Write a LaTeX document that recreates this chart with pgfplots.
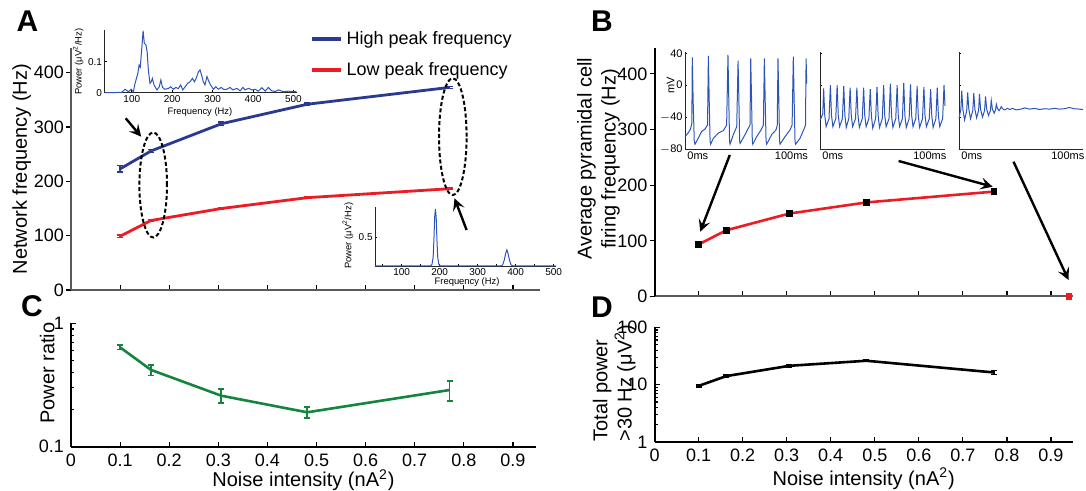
\documentclass[border=0pt]{standalone}
\usepackage{fontspec}
\setmainfont{Liberation Sans}
\usepackage{pgfplots}
\pgfplotsset{compat=1.18}
\usetikzlibrary{arrows.meta}

\definecolor{hiblue}{RGB}{43,57,144}
\definecolor{lored}{RGB}{237,28,36}
\definecolor{grn}{RGB}{20,133,62}
\definecolor{trace}{RGB}{45,85,185}
\definecolor{axgray}{RGB}{90,90,90}

\pgfplotsset{
  panel/.style={scale only axis, anchor=south west, axis lines*=left, clip=false,
    /pgf/number format/assume math mode=true,
    tick align=inside, major tick length=2.5pt, minor tick length=1.5pt,
    tick style={black, line width=0.6pt},
    axis line style={line width=1pt},
    tick label style={font=\fontsize{9}{10}\selectfont},
    label style={font=\fontsize{10}{12}\selectfont},
    xmin=0, xtick={0,0.1,0.2,0.3,0.4,0.5,0.6,0.7,0.8,0.9}},
  inset/.style={scale only axis, anchor=south west, axis lines*=left, clip=false,
    /pgf/number format/assume math mode=true,
    tick align=inside, major tick length=1.2pt, minor tick length=0.8pt,
    tick style={black, line width=0.3pt},
    axis line style={line width=0.45pt, black!85},
    tick label style={font=\fontsize{5}{6}\selectfont, inner sep=1pt},
    label style={font=\fontsize{4.7}{5.5}\selectfont}},
  ebar/.style={error bars/.cd, y dir=both, y explicit,
    error bar style={line width=0.8pt},
    error mark options={rotate=90, line width=0.8pt, mark size=1.5pt}},
}

\begin{document}
\begin{tikzpicture}
\useasboundingbox (0,0) rectangle (543pt,-245.5pt);

% ---------- A ----------
\begin{axis}[panel, at={(35.5pt,-145pt)}, width=234.5pt, height=120.85pt,
  xmax=0.955, ymin=0, ymax=445, ytick={0,100,200,300,400}, xticklabels={},
  axis line style={axgray, line width=1.2pt},
  ytick style={xshift=-2.5pt},
  ylabel={Network frequency (Hz)},
  ylabel style={at={(axis description cs:-0.105,0.5)}, anchor=center},
  legend style={draw=none, fill=none, at={(axis description cs:0.495,1.105)}, anchor=north west,
    font=\fontsize{9}{11}\selectfont, row sep=3.5pt},
  legend cell align=left,
  legend image code/.code={\draw[#1, line width=2pt] (0pt,0pt) -- (14.5pt,0pt);}]
\addplot[hiblue, line width=1.4pt, ebar] coordinates {
  (0.1,223) +- (0,6) (0.163,256) +- (0,3) (0.306,306) +- (0,3)
  (0.481,342) +- (0,2) (0.771,373) +- (0,2)};
\addlegendentry{High peak frequency}
\addplot[lored, line width=1.4pt, ebar] coordinates {
  (0.1,99) +- (0,2) (0.163,128) +- (0,2) (0.306,150) +- (0,1.5)
  (0.481,170) +- (0,1.5) (0.771,186.5) +- (0,1.5)};
\addlegendentry{Low peak frequency}
\end{axis}

% inset A upper
\begin{axis}[inset, at={(52.15pt,-46.35pt)}, width=96.2pt, height=31.35pt,
  xmin=32, xmax=508, ymin=0, ymax=0.202,
  xtick={100,200,300,400,500}, ytick={0,0.1}, yticklabels={0,0.1},
  xlabel={Frequency (Hz)}, ylabel={Power (μV\textsuperscript{2}/Hz)},
  xlabel style={at={(axis description cs:0.497,-0.303)}, anchor=center},
  ylabel style={at={(axis description cs:-0.135,0.494)}, anchor=center}]
\addplot[trace, line width=0.5pt] coordinates {
  (34,0) (75,0.001) (83.5,0.011) (91.8,0.003) (98.4,0.011) (104,0.003) (108,0.030)
  (115,0.062) (118,0.089) (121,0.082) (125,0.148) (128,0.200) (131,0.159) (135,0.154)
  (138,0.132) (141,0.073) (145,0.030) (148,0.035) (151,0.046) (155,0.025) (162,0.009)
  (168,0.019) (172,0.041) (176,0.017) (182,0.011) (191,0.014) (196,0.019) (203,0.011)
  (209,0.017) (215,0.013) (221,0.025) (226,0.009) (232,0.019) (238,0.030) (244,0.035)
  (250,0.046) (255,0.035) (261,0.052) (265,0.068) (269,0.073) (273,0.055) (277,0.035)
  (281,0.025) (286,0.052) (291,0.035) (295,0.025) (302,0.011) (308,0.019) (314,0.011)
  (321,0.017) (327,0.011) (335,0.011) (343,0.017) (350,0.009) (360,0.014) (368,0.006)
  (375,0.017) (380,0.009) (389,0.014) (397,0.009) (405,0.011) (413,0.005) (422,0.016)
  (430,0.005) (438,0.017) (446,0.006) (455,0.004) (463,0.009) (475,0.003) (488,0.005)
  (500,0.003) (507,0.004)};
\end{axis}

% inset A lower
\begin{axis}[inset, at={(187.5pt,-133pt)}, width=90.25pt, height=29.65pt,
  xmin=30, xmax=505, ymin=0, ymax=1.03,
  xtick={100,200,300,400,500}, minor xtick={50,150,250,350,450}, ytick={0.5},
  xlabel={Frequency (Hz)}, ylabel={Power (μV\textsuperscript{2}/Hz)},
  xlabel style={at={(axis description cs:0.51,-0.265)}, anchor=center},
  ylabel style={at={(axis description cs:-0.15,0.51)}, anchor=center}]
\addplot[trace, line width=0.5pt] coordinates {
  (30,0) (150,0) (176,0) (180,0.03) (183,0.15) (185,0.45) (187,0.85) (189,0.99)
  (191,0.85) (193,0.45) (195,0.15) (198,0.03) (202,0) (360,0) (366,0.02) (370,0.1)
  (374,0.22) (377,0.28) (380,0.22) (384,0.1) (388,0.02) (394,0) (505,0)};
\end{axis}

% ---------- C ----------
\begin{axis}[panel, at={(35.5pt,-223.35pt)}, width=232.5pt, height=61.7pt,
  xmax=0.947, ymode=log, ymin=0.1, ymax=1, ytick={0.1,1}, yticklabels={0.1,1},
  xticklabels={0,0.1,0.2,0.3,0.4,0.5,0.6,0.7,0.8,0.9},
  xlabel={Noise intensity (nA\textsuperscript{2})}, ylabel={Power ratio},
  xlabel style={at={(axis description cs:0.5,-0.27)}, anchor=center},
  ylabel style={at={(axis description cs:-0.051,0.597)}, anchor=center}]
\addplot[grn, line width=1.3pt, ebar] coordinates {
  (0.1,0.638) +- (0,0.026) (0.163,0.419) +- (0,0.04) (0.306,0.259) +- (0,0.033)
  (0.481,0.19) +- (0,0.02) (0.771,0.288) +- (0,0.053)};
\end{axis}

% ---------- B ----------
\begin{axis}[panel, at={(327.25pt,-148.25pt)}, width=209.25pt, height=124.4pt,
  xmax=0.95, ymin=0, ymax=447, ytick={0,100,200,300,400}, xticklabels={},
  x axis line style={axgray}, ytick style={xshift=-2.5pt},
  ylabel={Average pyramidal cell\\firing frequency (Hz)},
  ylabel style={at={(axis description cs:-0.134,0.553)}, anchor=center, align=center}]
\addplot[lored, line width=1.3pt, mark=square*, mark size=1pt,
  mark options={black, fill=black}, ebar] coordinates {
  (0.1,93.5) +- (0,3) (0.163,119) +- (0,2) (0.306,149) +- (0,3)
  (0.481,169) +- (0,3) (0.771,188.5) +- (0,2)};
\addplot[only marks, lored, mark=square*, mark size=1.4pt] coordinates {(0.941,0)};
\end{axis}

% inset B1
\begin{axis}[inset, at={(342.5pt,-74.5pt)}, width=60.85pt, height=48.65pt,
  xmin=0, xmax=100, ymin=-80, ymax=42, xtick=\empty,
  ytick={-80,-40,0,40}, yticklabels={$-$80,$-$40,0,40},
  tick label style={font=\fontsize{5.5}{6}\selectfont},
  ylabel={mV}, ylabel style={at={(axis description cs:-0.118,0.656)}, anchor=center,
    font=\fontsize{5.5}{6}\selectfont}]
\addplot[trace, line width=0.5pt] coordinates {
  (0,-64.5) (2.5,-60) (4.5,-55) (5.6,-48)
  (6.0,35) (6.7,-20) (7.6,-70) (8.2,-74) (10,-69) (13.7,-58) (16.4,-55) (18.5,-50)
  (19.2,36.7) (19.9,-20) (20.6,-70) (21.1,-74) (23.3,-66.6) (27.4,-60) (31.5,-57) (34.2,-50)
  (35.3,37.9) (36,-20) (36.6,-70) (37,-74) (39.7,-62) (42.5,-52)
  (43.6,30.8) (44.3,-20) (44.9,-70) (45.3,-73) (49.3,-62) (52,-54) (53.4,-50)
  (54,33.7) (54.7,-20) (55.3,-70) (55.7,-74) (58.9,-64.5) (62.5,-56) (64.4,-50)
  (65.2,33.7) (65.9,-20) (66.6,-70) (67.1,-74) (71.2,-62) (74.8,-56) (75.8,-50)
  (76.4,33.7) (77.1,-20) (77.7,-70) (78.1,-74) (82.2,-64.5) (86.3,-56) (88,-50)
  (89,35.8) (89.7,-20) (90.4,-70) (90.9,-74) (94.5,-66.6) (97.8,-55) (99,-50)
  (99.5,33.7) (100,2)};
\node[anchor=north west, inner sep=1pt, font=\fontsize{5.5}{6}\selectfont] at (axis cs:0,-80) {0ms};
\node[anchor=north east, inner sep=1pt, font=\fontsize{5.5}{6}\selectfont] at (axis cs:103,-80) {100ms};
\end{axis}

% inset B2
\begin{axis}[inset, at={(410pt,-74.5pt)}, width=62.5pt, height=48.65pt,
  xmin=0, xmax=100, ymin=-80, ymax=42, xtick=\empty,
  ytick={-80,-40,0,40}, yticklabels={}]
\addplot[trace, line width=0.5pt] coordinates {
  (0,-44) (2.2,-36)
  (2.9,-4) (3.8,-38) (4.9,-52) (7.2,-42)
  (8.3,0) (9.2,-38) (10.3,-52) (12.6,-42)
  (13.7,0) (14.6,-38) (15.7,-52) (17.9,-42)
  (19.0,-1) (19.9,-38) (21.0,-53) (23.0,-42)
  (24.1,-3) (25.0,-38) (26.1,-52) (28.4,-42)
  (29.5,-3) (30.4,-38) (31.5,-53) (33.8,-42)
  (34.9,-3) (35.8,-38) (36.9,-52) (39.1,-42)
  (40.2,-5) (41.1,-38) (42.2,-54) (44.5,-42)
  (45.6,-2) (46.5,-38) (47.6,-53) (49.8,-42)
  (50.9,0) (51.8,-38) (52.9,-52) (55.2,-42)
  (56.3,2) (57.2,-38) (58.3,-53) (60.6,-42)
  (61.7,0) (62.6,-38) (63.7,-52) (65.9,-42)
  (67.0,3) (67.9,-38) (69.0,-53) (71.3,-42)
  (72.4,1) (73.3,-38) (74.4,-52) (76.6,-42)
  (77.7,-1) (78.6,-38) (79.7,-53) (82.0,-42)
  (83.1,-2) (84.0,-38) (85.1,-52) (87.4,-42)
  (88.5,-5) (89.4,-38) (90.5,-53) (92.7,-42)
  (93.8,-3) (94.7,-38) (95.8,-52) (98.1,-42)
  (99.2,0) (100,-26)};
\node[anchor=north west, inner sep=1pt, font=\fontsize{5.5}{6}\selectfont] at (axis cs:0,-80) {0ms};
\node[anchor=north east, inner sep=1pt, font=\fontsize{5.5}{6}\selectfont] at (axis cs:103,-80) {100ms};
\end{axis}

% inset B3
\begin{axis}[inset, at={(479.5pt,-74.5pt)}, width=62pt, height=48.65pt,
  xmin=0, xmax=100, ymin=-80, ymax=42, xtick=\empty,
  ytick={-80,-40,0,40}, yticklabels={}]
\addplot[trace, line width=0.5pt] coordinates {
  (0,-41.5) (1.5,-30) (2.2,-7) (3.1,-30) (4.5,-43.6) (6.2,-32) (7.0,-9) (7.9,-30)
  (9.3,-42) (11.1,-32) (11.9,-10) (12.8,-30) (14.2,-41) (15.8,-32) (16.5,-11) (17.4,-30)
  (18.9,-40) (20.6,-32) (21.4,-14) (22.3,-30) (23.8,-38) (25.3,-32) (26.0,-19) (26.9,-30)
  (28.4,-35) (29.5,-31) (30.1,-24) (31,-29) (32.3,-32) (33.5,-29) (34,-27) (35.5,-30)
  (37,-31) (39,-29) (41,-30.5) (43,-29) (46,-31) (50,-30) (53,-28.5) (57,-30) (61,-29)
  (65,-30.5) (69,-29.5) (73,-30) (77,-29) (81,-30) (85,-29.5) (89,-28) (93,-29.5)
  (97,-30) (100,-30.5)};
\node[anchor=north west, inner sep=1pt, font=\fontsize{5.5}{6}\selectfont] at (axis cs:0,-80) {0ms};
\node[anchor=north east, inner sep=1pt, font=\fontsize{5.5}{6}\selectfont] at (axis cs:103,-80) {100ms};
\end{axis}

% ---------- D ----------
\begin{axis}[panel, at={(327.25pt,-221pt)}, width=209.25pt, height=57.35pt,
  xmax=0.95, ymode=log, ymin=1, ymax=100, ytick={1,10,100}, yticklabels={1,10,100},
  minor ytick={2,3,4,5,6,7,8,9,20,30,40,50,60,70,80,90},
  xticklabels={0,0.1,0.2,0.3,0.4,0.5,0.6,0.7,0.8,0.9},
  xlabel={Noise intensity (nA\textsuperscript{2})},
  ylabel={\begin{tabular}{@{}l@{}}Total power\\>30 Hz (μV\textsuperscript{2})\end{tabular}},
  xlabel style={at={(axis description cs:0.5,-0.32)}, anchor=center},
  ylabel style={at={(axis description cs:-0.095,0.0)}, anchor=west, inner sep=0pt}]
\addplot[black, line width=1.3pt, ebar] coordinates {
  (0.1,9.5) +- (0,0.3) (0.163,14.1) +- (0,0.5) (0.306,21.3) +- (0,0.8)
  (0.481,26.1) +- (0,0.8) (0.771,16.3) +- (0,1.3)};
\end{axis}

% ---------- annotations (pixel units) ----------
\begin{scope}[x=0.5pt, y=-0.5pt]
\tikzset{arr/.style={line width=1.2pt, -{Stealth[length=6pt, width=6pt, inset=2.5pt]}}}
\draw[line width=1pt, dash pattern=on 2pt off 1.2pt] (153.2,185) ellipse [x radius=6.9pt, y radius=26.25pt];
\draw[line width=1pt, dash pattern=on 2pt off 1.2pt] (452.8,136.7) ellipse [x radius=6.9pt, y radius=29.2pt];
\draw[arr] (125.7,118.3) -- (141.2,136.7);
\draw[arr] (466.6,230) -- (454.5,198.3);
\draw[arr] (729.8,155) -- (700.2,231.7);
\draw[arr] (898.6,161) -- (992.6,186.7);
\draw[arr] (1013.5,161.7) -- (1068.5,280);
\node[font=\fontsize{15}{15}\selectfont\bfseries] at (27.5,21) {A};
\node[font=\fontsize{15}{15}\selectfont\bfseries] at (602,21) {B};
\node[font=\fontsize{15}{15}\selectfont\bfseries] at (32,306) {C};
\node[font=\fontsize{15}{15}\selectfont\bfseries] at (602,307) {D};
\end{scope}
\end{tikzpicture}
\end{document}
